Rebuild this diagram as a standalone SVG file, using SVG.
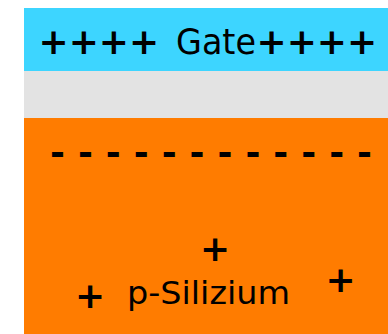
<svg xmlns="http://www.w3.org/2000/svg" width="388" height="334" viewBox="0 0 388 334">
<style>
.b{font-family:"DejaVu Sans",Verdana,sans-serif;font-weight:bold;font-size:36px;fill:#000}
.r{font-family:"DejaVu Sans",Verdana,sans-serif;font-size:36px;fill:#000}
</style>
<rect width="388" height="334" fill="#ffffff"/>
<g id="gate">
<rect x="24" y="8" width="364" height="63" fill="#3DD5FF"/>
<text class="b" x="38.5" y="54">++++</text>
<text class="r" x="176" y="54" textLength="80" lengthAdjust="spacingAndGlyphs">Gate</text>
<text class="b" x="256.5" y="54">++++</text>
</g>
<g id="oxide">
<rect x="24" y="71" width="364" height="47" fill="#E3E3E3"/>
</g>
<g id="silicon">
<rect x="24" y="118" width="364" height="216" fill="#FF7C00"/>
<text class="b" x="50" y="165" textLength="322" lengthAdjust="spacing">- - - - - - - - - - - -</text>
<text class="b" x="200" y="260.5">+</text>
<text class="b" x="75" y="307.5">+</text>
<text class="b" x="325.5" y="291.5">+</text>
<text class="r" x="127" y="304" style="font-size:32px" textLength="163" lengthAdjust="spacingAndGlyphs">p-Silizium</text>
</g>
<g id="connectors"/>
</svg>
